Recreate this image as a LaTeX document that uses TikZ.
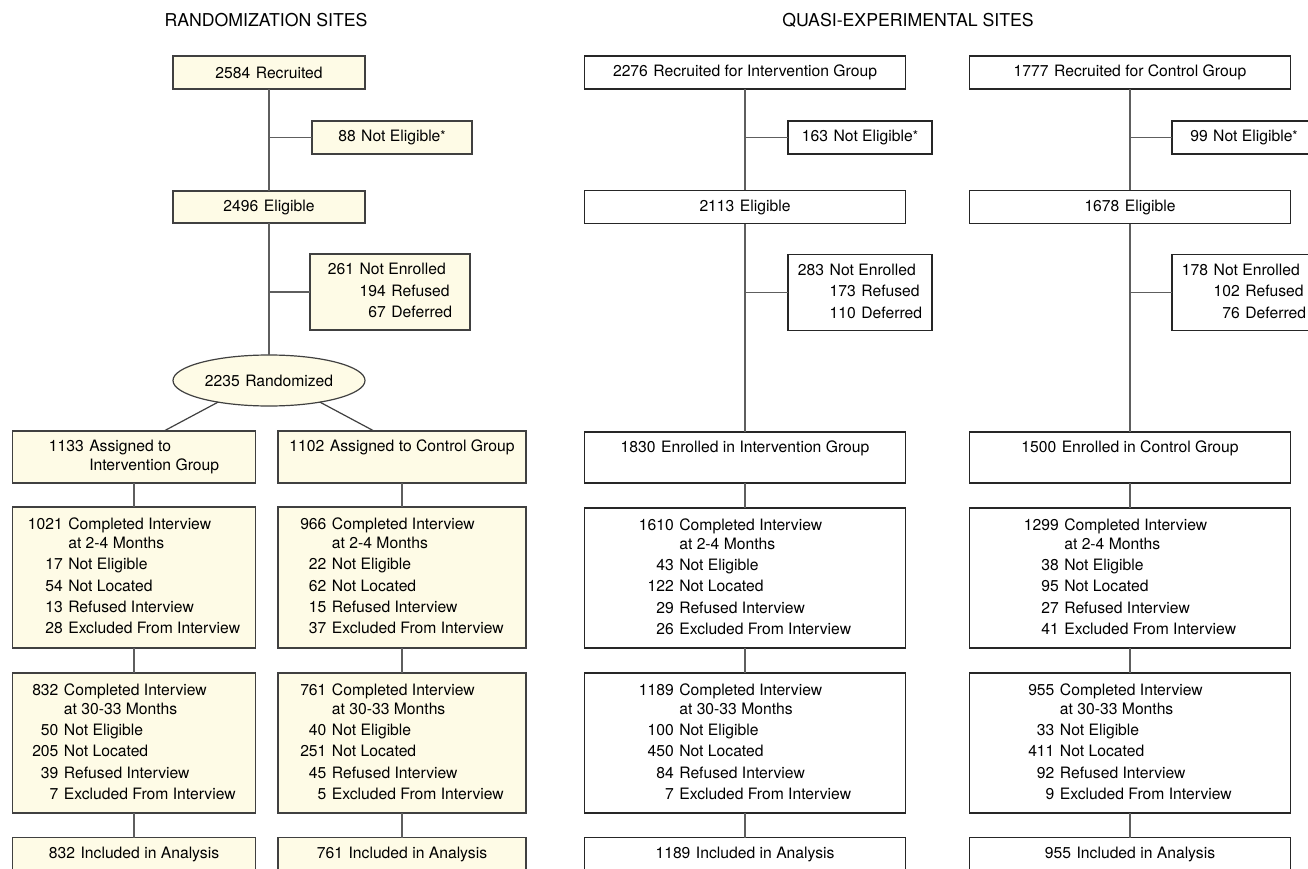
\documentclass[tikz,border=0pt]{standalone}
\usepackage{fontspec}
\setmainfont{TeX Gyre Heros}
\usetikzlibrary{shapes.geometric}
\definecolor{cream}{HTML}{FEFBE6}
\definecolor{boxline}{HTML}{404040}
\definecolor{connline}{HTML}{5E5E5E}
\newcommand{\gp}{\hspace{5.5pt}}
\newcommand{\tb}[1]{\begin{tabular}{@{}r@{\gp}l@{}}#1\end{tabular}}
\newcommand{\tbn}[1]{\begin{tabular}{@{}r@{\gp}r@{\gp}l@{}}#1\end{tabular}}
\newcommand{\astx}{{\fontsize{13.5}{13.5}\selectfont\raisebox{1.5pt}{*}}}
\begin{document}
\begin{tikzpicture}[x=1pt,y=-1pt,
  every node/.style={inner sep=0pt, outer sep=0pt, font=\fontsize{15.7}{21.3}\selectfont},
  rbox/.style={rectangle, draw=boxline, fill=cream, line width=1.2pt, align=center},
  qbox/.style={rectangle, draw=black!85, fill=white, line width=1.2pt, align=center},
  heading/.style={font=\fontsize{17.7}{20}\selectfont},
  conn/.style={draw=connline, line width=1.7pt},
  sz/.style 2 args={minimum width=#1, minimum height=#2}
]
\fill[white] (0,0) rectangle (1308,869);
\useasboundingbox (0,0) rectangle (1308,869);

% headings
\node[heading] (h1) at (266,20.5) {RANDOMIZATION SITES};
\node[heading] (h2) at (908,20.5) {QUASI-EXPERIMENTAL SITES};

% ---------------- randomization sites ----------------
\node[rbox, sz={192pt}{33pt}] (r1) at (269,72.5) {2584\gp Recruited};
\node[rbox, sz={160pt}{33pt}] (ne1) at (392,137.5) {88\gp Not Eligible\astx};
\node[rbox, sz={192pt}{32pt}] (e1) at (269,207) {2496\gp Eligible};
\node[rbox, sz={160pt}{76pt}] (ns1) at (390,292) {\tbn{261 & \multicolumn{2}{@{}l@{}}{Not Enrolled}\\ & 194 & Refused\\ & 67 & Deferred}};
\node[ellipse, draw=boxline, fill=cream, line width=1.2pt, minimum width=192pt, minimum height=51pt] (ell) at (269,380.5) {2235\gp Randomized};

\node[rbox, sz={243pt}{52pt}] (a1) at (134,457) {\tb{1133 & Assigned to\\[-2.3pt] & Intervention Group}};
\node[rbox, sz={248pt}{52pt}] (a2) at (402,457) {\tb{1102 & Assigned to Control Group\\[-2.3pt] & }};

\node[rbox, sz={243pt}{141pt}] (c1) at (134,577.5) {\tb{1021 & Completed Interview\\[-2.3pt] & at 2-4 Months\\ 17 & Not Eligible\\ 54 & Not Located\\ 13 & Refused Interview\\ 28 & Excluded From Interview}};
\node[rbox, sz={248pt}{141pt}] (c2) at (402,577.5) {\tb{966 & Completed Interview\\[-2.3pt] & at 2-4 Months\\ 22 & Not Eligible\\ 62 & Not Located\\ 15 & Refused Interview\\ 37 & Excluded From Interview}};

\node[rbox, sz={243pt}{140pt}] (d1) at (134,743) {\tb{832 & Completed Interview\\[-2.3pt] & at 30-33 Months\\ 50 & Not Eligible\\ 205 & Not Located\\ 39 & Refused Interview\\ 7 & Excluded From Interview}};
\node[rbox, sz={248pt}{140pt}] (d2) at (402,743) {\tb{761 & Completed Interview\\[-2.3pt] & at 30-33 Months\\ 40 & Not Eligible\\ 251 & Not Located\\ 45 & Refused Interview\\ 5 & Excluded From Interview}};

\node[rbox, sz={243pt}{33pt}] (f1) at (134,854) {832\gp Included in Analysis};
\node[rbox, sz={248pt}{33pt}] (f2) at (402,854) {761\gp Included in Analysis};

% ---------------- quasi-experimental: intervention ----------------
\node[qbox, sz={321pt}{33pt}] (qr1) at (745,72.5) {2276\gp Recruited for Intervention Group};
\node[qbox, sz={144pt}{33pt}] (qne1) at (860,137.5) {163\gp Not Eligible\astx};
\node[qbox, sz={321pt}{33pt}] (qe1) at (745,207) {2113\gp Eligible};
\node[qbox, sz={144pt}{76pt}] (qns1) at (860,292.5) {\tbn{283 & \multicolumn{2}{@{}l@{}}{Not Enrolled}\\ & 173 & Refused\\ & 110 & Deferred}};
\node[qbox, sz={321pt}{51pt}] (qa1) at (745,457.5) {\tb{1830 & Enrolled in Intervention Group\\[-2.3pt] & }};
\node[qbox, sz={321pt}{140pt}] (qc1) at (745,578) {\tb{1610 & Completed Interview\\[-2.3pt] & at 2-4 Months\\ 43 & Not Eligible\\ 122 & Not Located\\ 29 & Refused Interview\\ 26 & Excluded From Interview}};
\node[qbox, sz={321pt}{140pt}] (qd1) at (745,743) {\tb{1189 & Completed Interview\\[-2.3pt] & at 30-33 Months\\ 100 & Not Eligible\\ 450 & Not Located\\ 84 & Refused Interview\\ 7 & Excluded From Interview}};
\node[qbox, sz={321pt}{33pt}] (qf1) at (745,854) {1189\gp Included in Analysis};

% ---------------- quasi-experimental: control ----------------
\node[qbox, sz={321pt}{33pt}] (qr2) at (1130,72.5) {1777\gp Recruited for Control Group};
\node[qbox, sz={144pt}{33pt}] (qne2) at (1244,137.5) {99\gp Not Eligible\astx};
\node[qbox, sz={321pt}{33pt}] (qe2) at (1130,207) {1678\gp Eligible};
\node[qbox, sz={144pt}{76pt}] (qns2) at (1244,292.5) {\tbn{178 & \multicolumn{2}{@{}l@{}}{Not Enrolled}\\ & 102 & Refused\\ & 76 & Deferred}};
\node[qbox, sz={321pt}{51pt}] (qa2) at (1130,457.5) {\tb{1500 & Enrolled in Control Group\\[-2.3pt] & }};
\node[qbox, sz={321pt}{140pt}] (qc2) at (1130,578) {\tb{1299 & Completed Interview\\[-2.3pt] & at 2-4 Months\\ 38 & Not Eligible\\ 95 & Not Located\\ 27 & Refused Interview\\ 41 & Excluded From Interview}};
\node[qbox, sz={321pt}{140pt}] (qd2) at (1130,743) {\tb{955 & Completed Interview\\[-2.3pt] & at 30-33 Months\\ 33 & Not Eligible\\ 411 & Not Located\\ 92 & Refused Interview\\ 9 & Excluded From Interview}};
\node[qbox, sz={321pt}{33pt}] (qf2) at (1130,854) {955\gp Included in Analysis};

% ---------------- connectors ----------------
\draw[conn] (r1.south) -- (e1.north);
\draw[conn] (r1.south |- ne1.west) -- (ne1.west);
\draw[conn] (e1.south) -- (ell.north);
\draw[conn] (e1.south |- ns1.west) -- (ns1.west);
\draw[conn, line width=1.2pt, draw=boxline] (ell.203) -- ([xshift=30pt]a1.north);
\draw[conn, line width=1.2pt, draw=boxline] (ell.337) -- ([xshift=-28pt]a2.north);
\draw[conn] (a1.south) -- (c1.north);
\draw[conn] (c1.south) -- (d1.north);
\draw[conn] (d1.south) -- (f1.north);
\draw[conn] (a2.south) -- (c2.north);
\draw[conn] (c2.south) -- (d2.north);
\draw[conn] (d2.south) -- (f2.north);

\draw[conn] (qr1.south) -- (qe1.north);
\draw[conn] (qr1.south |- qne1.west) -- (qne1.west);
\draw[conn] (qe1.south) -- (qa1.north);
\draw[conn] (qe1.south |- qns1.west) -- (qns1.west);
\draw[conn] (qa1.south) -- (qc1.north);
\draw[conn] (qc1.south) -- (qd1.north);
\draw[conn] (qd1.south) -- (qf1.north);

\draw[conn] (qr2.south) -- (qe2.north);
\draw[conn] (qr2.south |- qne2.west) -- (qne2.west);
\draw[conn] (qe2.south) -- (qa2.north);
\draw[conn] (qe2.south |- qns2.west) -- (qns2.west);
\draw[conn] (qa2.south) -- (qc2.north);
\draw[conn] (qc2.south) -- (qd2.north);
\draw[conn] (qd2.south) -- (qf2.north);
\end{tikzpicture}
\end{document}
